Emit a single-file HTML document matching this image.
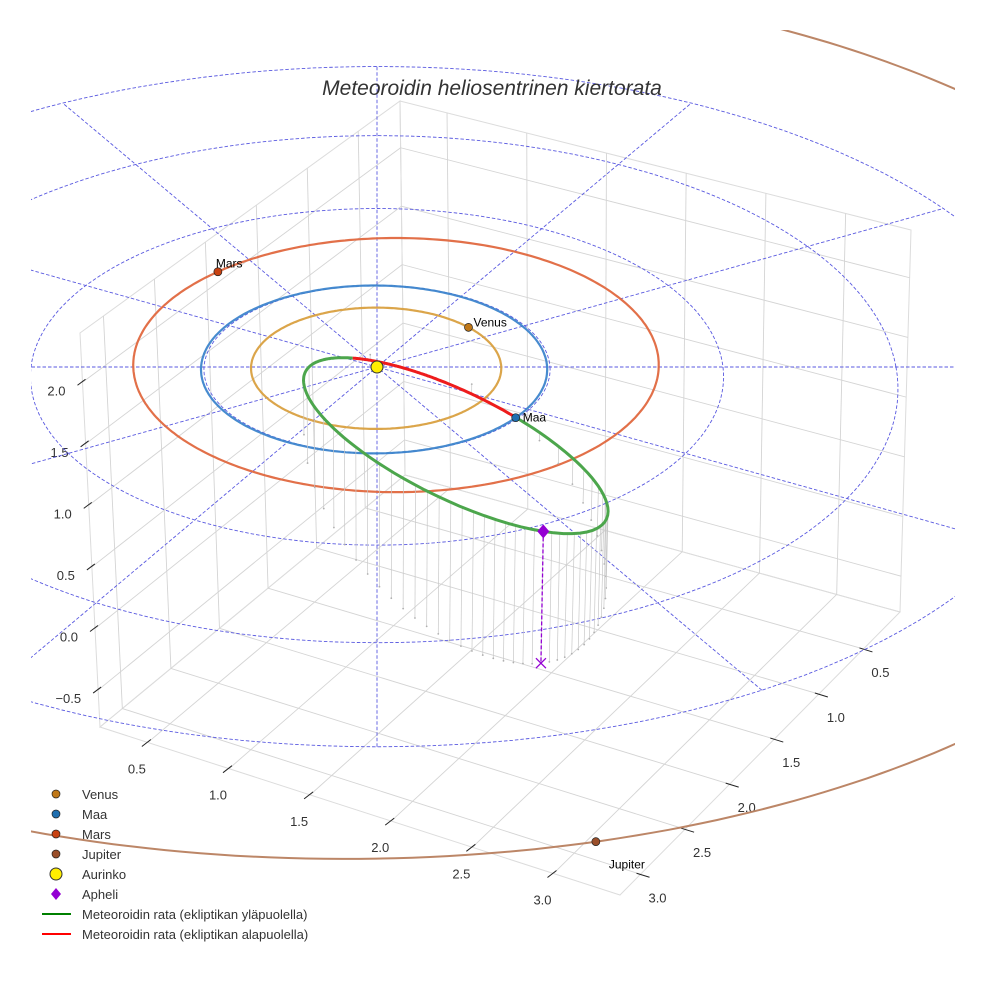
<!DOCTYPE html>
<html>
<head>
<meta charset="utf-8">
<style>
html,body{margin:0;padding:0;background:#fff;}
svg{display:block;font-family:"Liberation Sans",sans-serif;}
</style>
</head>
<body>
<svg id="chart" width="984" height="984" viewBox="0 0 984 984" xmlns="http://www.w3.org/2000/svg">
  <defs>
    <clipPath id="plotClip"><rect x="31" y="30" width="924" height="940"/></clipPath>
  </defs>
  <rect x="0" y="0" width="984" height="984" fill="#fff"/>
  <g id="box"></g>
  <g id="ticks"></g>
  <g id="plot" clip-path="url(#plotClip)"></g>
  <text x="492" y="95" text-anchor="middle" font-size="21" font-style="italic" fill="#333">Meteoroidin heliosentrinen kiertorata</text>
  <g id="legend"></g>
</svg>
<script>
// ---- axis data ----
const xTicks = [0.5, 1.0, 1.5, 2.0, 2.5, 3.0];
const yTicks = [0.5, 1.0, 1.5, 2.0, 2.5, 3.0];
const zTicks = [-0.5, 0.0, 0.5, 1.0, 1.5, 2.0];
const xLim = [0.205, 3.41];
const yLim = [0.09, 3.23];
const zLim = [-0.80, 2.40];
// ---- planets ----
const planetNames = ['Venus', 'Maa', 'Mars', 'Jupiter'];
const planetA = [0.723, 1.0, 1.524, 5.203];
const planetE = [0.0068, 0.0167, 0.0934, 0.0484];
const planetPeri = [0, 0, 140.7, 49.6];      // deg
const planetLon = [-41.8, 37.0, -129.0, 77.4]; // deg
// ---- meteoroid orbital elements ----
const meteorQ = [0.157];      // perihelion distance AU
const meteorE = [0.912];
const meteorInc = [21.5];     // deg
const meteorNode = [37.0];    // deg
const meteorArgPeri = [220.0];// deg
// ---- ecliptic polar grid ----
const ringRadii = [1, 2, 3, 4];
const spokeAngles = [0, 30, 60, 90, 120, 150];

const NS = 'http://www.w3.org/2000/svg';
function mk(parent, tag, attrs) {
  const e = document.createElementNS(NS, tag);
  for (const k in attrs) e.setAttribute(k, attrs[k]);
  parent.appendChild(e);
  return e;
}
const rad = d => d * Math.PI / 180;

// ---- perspective camera for ecliptic scene ----
const EL = rad(29), cE = Math.cos(EL), sE = Math.sin(EL);
const DIST = 30, FOC = 173 * DIST, CX = 377, CY = 367;
function proj(u, v, z) {
  const t = v * cE + z * sE;
  const up = z * cE - v * sE;
  const k = FOC / (DIST - t);
  return [CX + u * k, CY - up * k];
}
const pts = a => a.map(p => p[0].toFixed(1) + ',' + p[1].toFixed(1)).join(' ');

// ---- box geometry (screen corners) ----
const Bb = [405, 475], Rb = [900, 612], Fb = [620, 895], Lb = [100, 727];
const Bt = [400, 101], Rt = [911, 230], Lt = [80, 333];
function bil(p00, p10, p11, p01, s, t) {
  return [
    p00[0] * (1 - s) * (1 - t) + p10[0] * s * (1 - t) + p11[0] * s * t + p01[0] * (1 - s) * t,
    p00[1] * (1 - s) * (1 - t) + p10[1] * s * (1 - t) + p11[1] * s * t + p01[1] * (1 - s) * t
  ];
}
const nx = x => (x - xLim[0]) / (xLim[1] - xLim[0]);
const ny = y => (y - yLim[0]) / (yLim[1] - yLim[0]);
const nz = z => (z - zLim[0]) / (zLim[1] - zLim[0]);
const floorP = (x, y) => bil(Bb, Rb, Fb, Lb, nx(x), ny(y));
const leftP = (y, z) => bil(Bb, Lb, Lt, Bt, ny(y), nz(z));
const rightP = (x, z) => bil(Bb, Rb, Rt, Bt, nx(x), nz(z));

const gBox = document.getElementById('box');
const paneStyle = {fill: 'none', stroke: '#dcdcdc', 'stroke-width': 1};
const pf = mk(gBox, 'polygon', Object.assign({points: pts([Bb, Rb, Fb, Lb])}, paneStyle));


const pl = mk(gBox, 'polygon', Object.assign({points: pts([Bb, Lb, Lt, Bt])}, paneStyle));


const pr = mk(gBox, 'polygon', Object.assign({points: pts([Bb, Rb, Rt, Bt])}, paneStyle));



function gridLine(a, b, name) {
  const l = mk(gBox, 'line', {x1: a[0], y1: a[1], x2: b[0], y2: b[1], stroke: '#d4d4d4', 'stroke-width': 0.9});
  
  
}
xTicks.forEach(x => {
  gridLine(floorP(x, yLim[0]), floorP(x, yLim[1]), 'floor-grid-x');
  gridLine(rightP(x, zLim[0]), rightP(x, zLim[1]), 'wall-grid-x');
});
yTicks.forEach(y => {
  gridLine(floorP(xLim[0], y), floorP(xLim[1], y), 'floor-grid-y');
  gridLine(leftP(y, zLim[0]), leftP(y, zLim[1]), 'wall-grid-y');
});
zTicks.forEach(z => {
  gridLine(leftP(yLim[0], z), leftP(yLim[1], z), 'left-wall-grid-z');
  gridLine(rightP(xLim[0], z), rightP(xLim[1], z), 'right-wall-grid-z');
});

// ---- ticks ----
const gT = document.getElementById('ticks');
const fmt = v => v.toFixed(1).replace('-', '\u2212');
function tick(p, d1, d2, name) {
  const l = mk(gT, 'line', {x1: p[0] + d1[0], y1: p[1] + d1[1], x2: p[0] + d2[0], y2: p[1] + d2[1], stroke: '#222', 'stroke-width': 1});
  
  
}
function tlabel(x, y, s, anchor, name) {
  const t = mk(gT, 'text', {x: x, y: y, 'font-size': 13, fill: '#333', 'text-anchor': anchor});
  t.textContent = s;
  
  
}
xTicks.forEach(x => {
  const p = floorP(x, yLim[1]);
  tick(p, [3, -3], [-6, 4], 'x-tick');
  tlabel(p[0] - 11, p[1] + 31, fmt(x), 'middle', 'x-tick-label');
});
yTicks.forEach(y => {
  const p = floorP(xLim[1], y);
  tick(p, [-4, -1], [9, 3], 'y-tick');
  tlabel(p[0] + 17, p[1] + 28, fmt(y), 'middle', 'y-tick-label');
});
zTicks.forEach(z => {
  const p = leftP(yLim[1], z);
  tick(p, [-5, 3], [3, -3], 'z-tick');
  tlabel(p[0] - 17, p[1] + 13, fmt(z), 'end', 'z-tick-label');
});

// ---- ecliptic scene ----
const gP = document.getElementById('plot');

ringRadii.forEach(r => {
  const a = [];
  for (let d = 0; d <= 360; d += 2) a.push(proj(r * Math.cos(rad(d)), r * Math.sin(rad(d)), 0));
  const e = mk(gP, 'polyline', {points: pts(a), fill: 'none', stroke: '#5a5ae0', 'stroke-width': 0.9, 'stroke-dasharray': '3.5,2'});
  
  
});
const rMax = ringRadii[ringRadii.length - 1];
spokeAngles.forEach(d => {
  const a = proj(rMax * Math.cos(rad(d)), rMax * Math.sin(rad(d)), 0);
  const b = proj(-rMax * Math.cos(rad(d)), -rMax * Math.sin(rad(d)), 0);
  const e = mk(gP, 'line', {x1: a[0], y1: a[1], x2: b[0], y2: b[1], stroke: '#5a5ae0', 'stroke-width': 0.9, 'stroke-dasharray': '3.5,2'});
  
  
});

const orbitColors = ['#d9a040', '#3d85cc', '#e0683f', '#b8805f'];
const markerColors = ['#c07818', '#1f6fb0', '#c84212', '#9a4f2a'];
function planetPos(i, lonDeg) {
  const a = planetA[i], e = planetE[i];
  const r = a * (1 - e * e) / (1 + e * Math.cos(rad(lonDeg - planetPeri[i])));
  return [r * Math.cos(rad(lonDeg)), r * Math.sin(rad(lonDeg))];
}
planetNames.forEach((nm, i) => {
  const a = [];
  for (let d = 0; d <= 360; d += 1) { const p = planetPos(i, d); a.push(proj(p[0], p[1], 0)); }
  const e = mk(gP, 'polyline', {points: pts(a), fill: 'none', stroke: orbitColors[i], 'stroke-width': i === 3 ? 2 : 2.2, 'stroke-opacity': 0.95});
  
  
});

const q = meteorQ[0], ecc = meteorE[0], inc = rad(meteorInc[0]), Om = rad(meteorNode[0]), w = rad(meteorArgPeri[0]);
const pLat = q * (1 + ecc);
function meteorPos(phi) {
  const r = pLat / (1 + ecc * Math.cos(phi - w));
  const c = Math.cos(phi), s = Math.sin(phi);
  const u = r * (c * Math.cos(Om) - s * Math.cos(inc) * Math.sin(Om));
  const v = r * (c * Math.sin(Om) + s * Math.cos(inc) * Math.cos(Om));
  const z = r * s * Math.sin(inc);
  return [u, v, z];
}
const NSTEM = 50;
for (let k = 0; k < NSTEM; k++) {
  const M = 2 * Math.PI * k / NSTEM;
  let E = M;
  for (let it = 0; it < 50; it++) E = E - (E - ecc * Math.sin(E) - M) / (1 - ecc * Math.cos(E));
  const nu = 2 * Math.atan(Math.sqrt((1 + ecc) / (1 - ecc)) * Math.tan(E / 2));
  const P = meteorPos(nu + w);
  const a = proj(P[0], P[1], P[2]), b = proj(P[0], P[1], 0);
  const l = mk(gP, 'line', {x1: a[0], y1: a[1], x2: b[0], y2: b[1], stroke: '#c8c8c8', 'stroke-width': 0.7});
  
  
  const d = mk(gP, 'circle', {cx: b[0], cy: b[1], r: 0.9, fill: '#b0b0b0'});
  
  
}
const green = [], red = [];
for (let d = 0; d <= 180; d += 1) { const P = meteorPos(rad(d)); green.push(proj(P[0], P[1], P[2])); }
for (let d = 180; d <= 360; d += 1) { const P = meteorPos(rad(d)); red.push(proj(P[0], P[1], P[2])); }
const gl = mk(gP, 'polyline', {points: pts(green), fill: 'none', stroke: '#4ca64c', 'stroke-width': 3});


const rl = mk(gP, 'polyline', {points: pts(red), fill: 'none', stroke: '#ee1c1c', 'stroke-width': 3});



const A3 = meteorPos(w + Math.PI);
const Ap = proj(A3[0], A3[1], A3[2]), Af = proj(A3[0], A3[1], 0);
const al = mk(gP, 'line', {x1: Ap[0], y1: Ap[1], x2: Af[0], y2: Af[1], stroke: '#9400d3', 'stroke-width': 1.3, 'stroke-dasharray': '4,2'});


const ax = mk(gP, 'path', {d: `M${Af[0]-5},${Af[1]-5}L${Af[0]+5},${Af[1]+5}M${Af[0]-5},${Af[1]+5}L${Af[0]+5},${Af[1]-5}`, stroke: '#9400d3', 'stroke-width': 1.3, fill: 'none'});


const ad = mk(gP, 'polygon', {points: pts([[Ap[0], Ap[1] - 7], [Ap[0] + 6, Ap[1]], [Ap[0], Ap[1] + 7], [Ap[0] - 6, Ap[1]]]), fill: '#9400d3'});



const labelDx = [5, 7, -2, 13], labelDy = [-1, 4, -4, 27];
planetNames.forEach((nm, i) => {
  const p = planetPos(i, planetLon[i]);
  const s = proj(p[0], p[1], 0);
  const c = mk(gP, 'circle', {cx: s[0], cy: s[1], r: 4, fill: markerColors[i], stroke: '#222', 'stroke-width': 0.7});
  
  
  const t = mk(gP, 'text', {x: s[0] + labelDx[i], y: s[1] + labelDy[i], 'font-size': 12, fill: '#000'});
  t.textContent = nm;
  
  
});
const sun = proj(0, 0, 0);
const sc = mk(gP, 'circle', {cx: sun[0], cy: sun[1], r: 6, fill: '#ffee00', stroke: '#333', 'stroke-width': 1});



const gL = document.getElementById('legend');
const legendLabels = ['Venus', 'Maa', 'Mars', 'Jupiter', 'Aurinko', 'Apheli', 'Meteoroidin rata (ekliptikan yläpuolella)', 'Meteoroidin rata (ekliptikan alapuolella)'];
legendLabels.forEach((lab, k) => {
  const y = 794 + k * 20;
  let m;
  if (k < 4) {
    m = mk(gL, 'circle', {cx: 56, cy: y, r: 4, fill: markerColors[k], stroke: '#222', 'stroke-width': 0.7});
  } else if (k === 4) {
    m = mk(gL, 'circle', {cx: 56, cy: y, r: 6, fill: '#ffee00', stroke: '#333', 'stroke-width': 1});
  } else if (k === 5) {
    m = mk(gL, 'polygon', {points: pts([[56, y - 6], [61, y], [56, y + 6], [51, y]]), fill: '#9400d3'});
  } else {
    m = mk(gL, 'line', {x1: 42, y1: y, x2: 71, y2: y, stroke: k === 6 ? '#008000' : '#ff0000', 'stroke-width': 2});
  }
  
  
  const t = mk(gL, 'text', {x: 82, y: y + 5, 'font-size': 13, fill: '#333'});
  t.textContent = lab;
  
  
});
</script>
</body>
</html>
